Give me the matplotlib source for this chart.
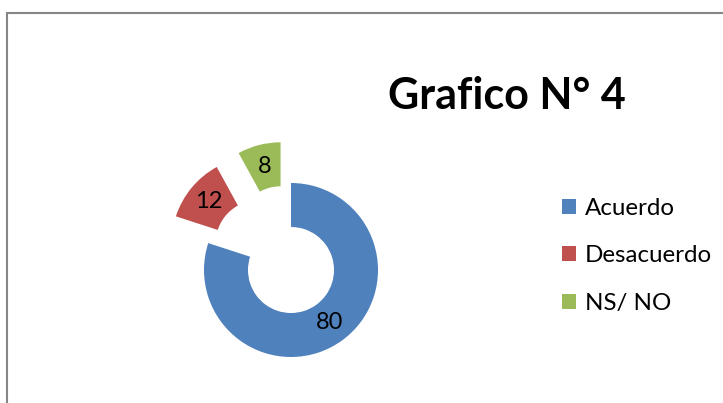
import matplotlib.pyplot as plt
from matplotlib.patches import Rectangle

# chart data
categories = ["Acuerdo", "Desacuerdo", "NS/ NO"]
values = [80, 12, 8]
colors = ["#4F81BD", "#C0504D", "#9BBB59"]
title = "Grafico N° 4"

plt.rcParams['font.family'] = ['Lato', 'DejaVu Sans']

W, H = 723, 403
fig = plt.figure(figsize=(W / 100, H / 100), dpi=100)
# axes in pixel units, y going up
ax = fig.add_axes([0, 0, 1, 1])
ax.set_xlim(0, W)
ax.set_ylim(0, H)
ax.set_aspect('equal')
ax.axis('off')

radius = 87
wedges, texts, autotexts = ax.pie(
    values, colors=colors, startangle=90, counterclock=False,
    center=(291, H - 270), radius=radius, explode=[0, 42, 42],
    wedgeprops=dict(width=44, edgecolor='none'),
    autopct=lambda p: f"{p:.0f}", pctdistance=0.75,
    textprops=dict(fontsize=17, color='black'))
ax.set_xlim(0, W)
ax.set_ylim(0, H)

fig.text(507 / W, 1 - 96 / H, title, fontsize=31, fontweight='bold',
         ha='center', va='center')

ax.legend(wedges, categories, loc='upper left', bbox_to_anchor=(540 / W, 1 - 176 / H),
          frameon=False, fontsize=17.4, handlelength=0.6, handleheight=0.6,
          handletextpad=0.35, labelspacing=1.1)

# chart border
fig.patches.append(Rectangle((7 / W, -0.1), 1.2, 1.1 - 13 / H, transform=fig.transFigure,
                             fill=False, edgecolor='#868686', linewidth=1.5))

fig.savefig('out.png', dpi=100)
